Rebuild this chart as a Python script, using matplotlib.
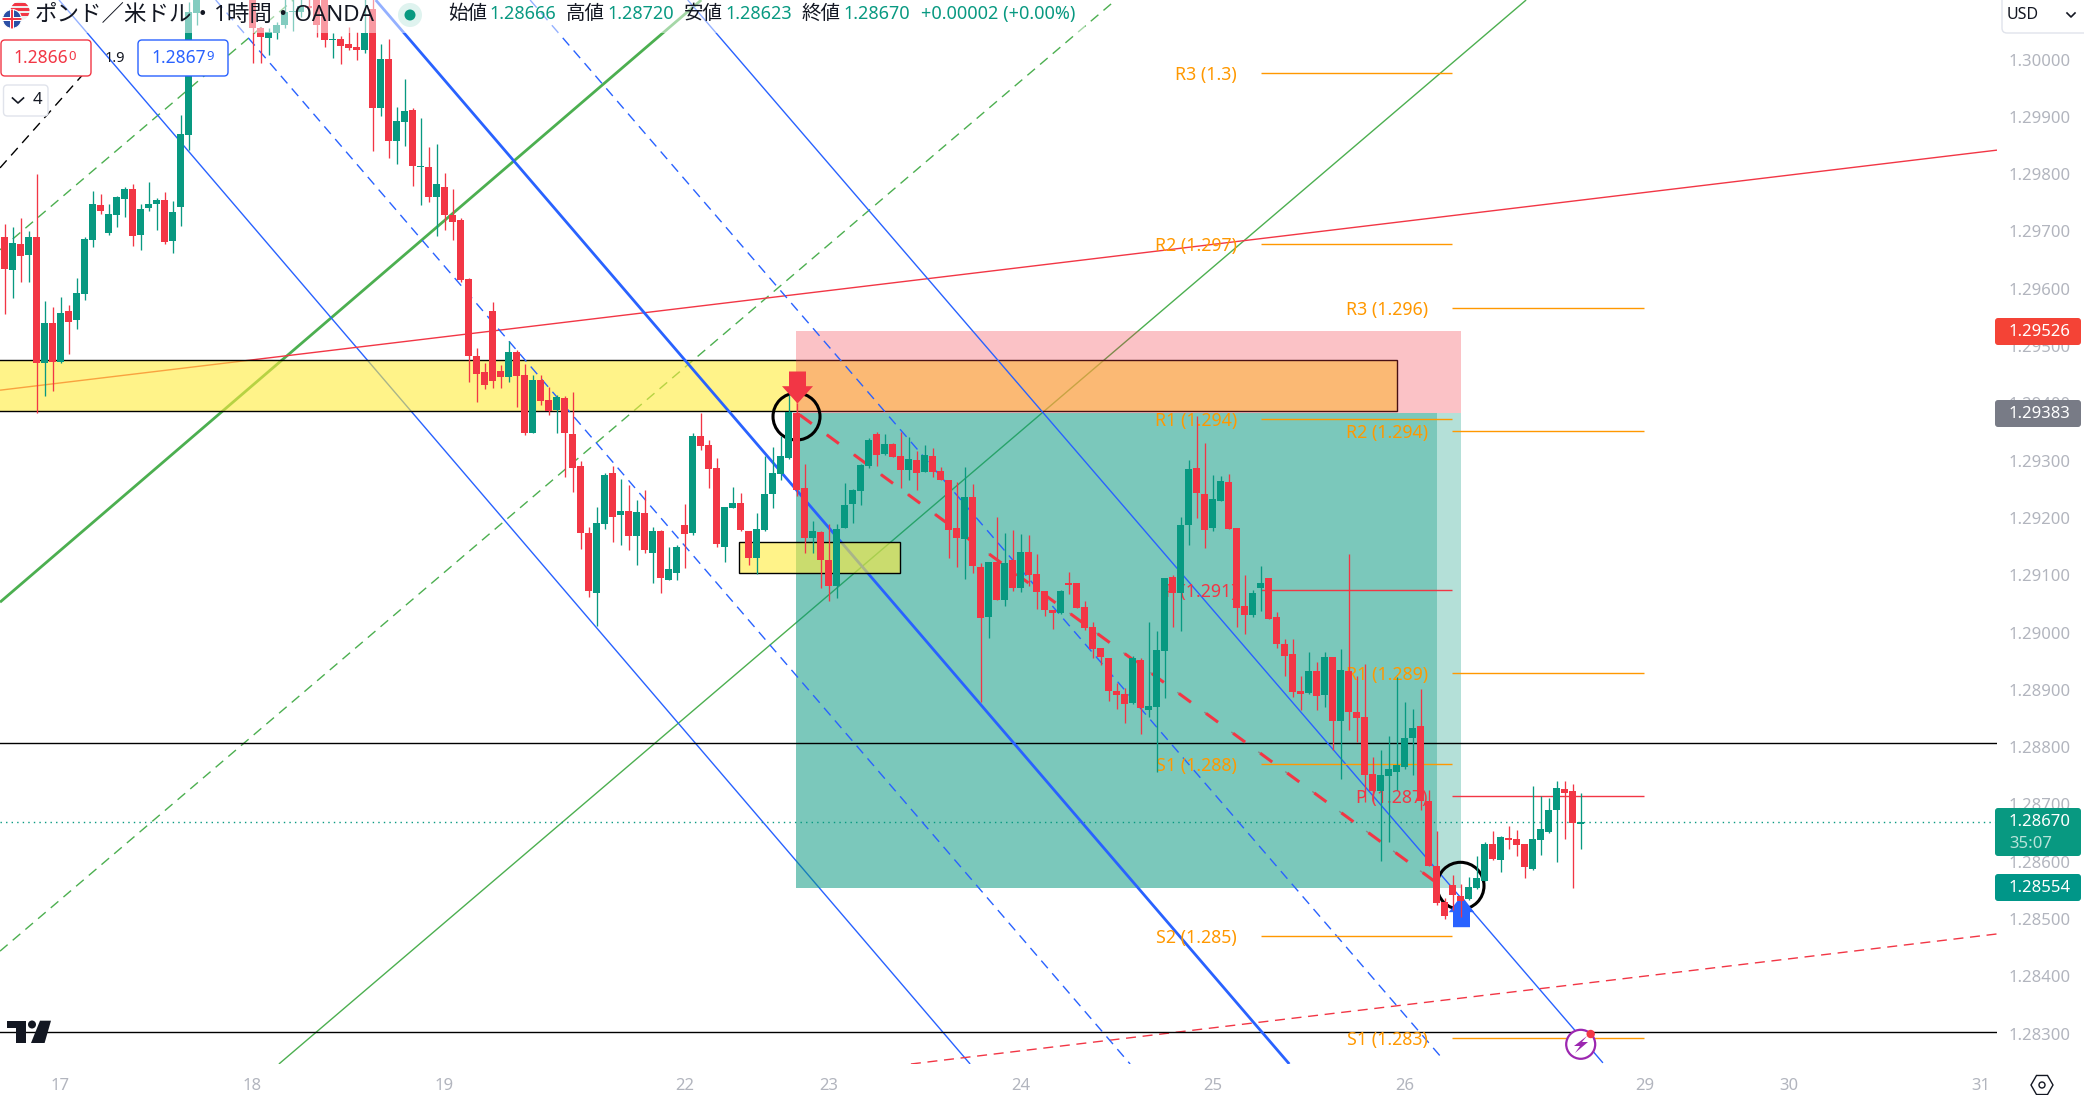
import numpy as np
import matplotlib
matplotlib.use('Agg')
import matplotlib.pyplot as plt
from matplotlib.patches import Rectangle, Circle, Polygon, FancyBboxPatch, RegularPolygon
from matplotlib.path import Path

plt.rcParams['font.family'] = ['Noto Sans', 'Noto Sans CJK JP', 'DejaVu Sans']

opens = [
    1.29690,1.29633,1.29678,1.29659,1.29690,1.29470,1.29540,1.29473,1.29561,1.29545,
    1.29591,1.29685,1.29746,1.29697,1.29729,1.29757,1.29774,1.29694,1.29741,1.29748,
    1.29755,1.29683,1.29743,1.29868,1.30081,1.30130,1.30185,1.30230,1.30195,1.30240,
    1.30190,1.30135,1.30055,1.30038,1.30046,1.30060,1.30083,1.30083,1.30094,1.30105,
    1.30110,1.30035,1.30036,1.30027,1.30022,1.30017,1.30088,1.29916,1.30001,1.29858,
    1.29891,1.29912,1.29813,1.29813,1.29760,1.29778,1.29729,1.29720,1.29617,1.29483,
    1.29455,1.29561,1.29456,1.29446,1.29490,1.29450,1.29349,1.29441,1.29406,1.29389,
    1.29410,1.29347,1.29291,1.29174,1.29069,1.29190,1.29279,1.29205,1.29212,1.29169,
    1.29209,1.29139,1.29178,1.29092,1.29104,1.29188,1.29174,1.29343,1.29327,1.29287,
    1.29149,1.29218,1.29226,1.29177,1.29130,1.29179,1.29242,1.29277,1.29305,1.29384,
    1.29252,1.29165,1.29176,1.29127,1.29081,1.29183,1.29225,1.29247,1.29291,1.29347,
    1.29312,1.29329,1.29308,1.29284,1.29301,1.29280,1.29308,1.29282,1.29266,1.29183,
    1.29163,1.29237,1.29115,1.29027,1.29123,1.29057,1.29127,1.29078,1.29141,1.29102,
    1.29073,1.29039,1.29034,1.29087,1.29087,1.29045,1.29010,1.28973,1.28956,1.28898,
    1.28893,1.28877,1.28952,1.28865,1.28870,1.28968,1.29097,1.29069,1.29188,1.29287,
    1.29242,1.29183,1.29230,1.29263,1.29183,1.29046,1.29031,1.29078,1.29095,1.29027,
    1.28980,1.28963,1.28898,1.28895,1.28933,1.28891,1.28957,1.28846,1.28933,1.28862,
    1.28853,1.28753,1.28724,1.28750,1.28757,1.28766,1.28816,1.28837,1.28706,1.28593,
    1.28530,1.28560,1.28540,1.28535,1.28554,1.28567,1.28631,1.28603,1.28641,1.28640,
    1.28631,1.28588,1.28638,1.28652,1.28691,1.28727,1.28724,1.28666,
]
closes = [
    1.29634,1.29680,1.29657,1.29690,1.29470,1.29540,1.29473,1.29558,1.29542,1.29593,
    1.29687,1.29748,1.29736,1.29730,1.29760,1.29774,1.29692,1.29739,1.29748,1.29755,
    1.29682,1.29734,1.29870,1.30083,1.30130,1.30185,1.30230,1.30195,1.30240,1.30190,
    1.30135,1.30055,1.30039,1.30048,1.30060,1.30083,1.30085,1.30094,1.30090,1.30060,
    1.30034,1.30036,1.30024,1.30020,1.30017,1.30046,1.29916,1.30001,1.29858,1.29893,
    1.29910,1.29814,1.29815,1.29760,1.29783,1.29729,1.29717,1.29615,1.29483,1.29451,
    1.29432,1.29439,1.29446,1.29490,1.29447,1.29349,1.29441,1.29405,1.29387,1.29411,
    1.29349,1.29288,1.29174,1.29073,1.29191,1.29275,1.29202,1.29212,1.29169,1.29211,
    1.29144,1.29178,1.29095,1.29111,1.29150,1.29172,1.29343,1.29326,1.29286,1.29155,
    1.29219,1.29226,1.29179,1.29130,1.29181,1.29242,1.29279,1.29308,1.29385,1.29249,
    1.29165,1.29177,1.29127,1.29081,1.29181,1.29223,1.29249,1.29293,1.29336,1.29310,
    1.29329,1.29306,1.29284,1.29303,1.29279,1.29310,1.29280,1.29266,1.29179,1.29165,
    1.29237,1.29116,1.29026,1.29123,1.29057,1.29122,1.29078,1.29141,1.29101,1.29071,
    1.29039,1.29034,1.29073,1.29083,1.29043,1.29008,1.28971,1.28957,1.28898,1.28891,
    1.28875,1.28956,1.28869,1.28872,1.28970,1.29095,1.29069,1.29188,1.29286,1.29244,
    1.29179,1.29233,1.29265,1.29181,1.29043,1.29031,1.29069,1.29087,1.29024,1.28980,
    1.28959,1.28896,1.28893,1.28933,1.28889,1.28957,1.28846,1.28935,1.28862,1.28851,
    1.28752,1.28724,1.28752,1.28762,1.28769,1.28816,1.28834,1.28706,1.28593,1.28528,
    1.28506,1.28542,1.28532,1.28556,1.28572,1.28631,1.28605,1.28643,1.28638,1.28630,
    1.28591,1.28640,1.28657,1.28691,1.28729,1.28720,1.28668,1.28670,
]
highs = [
    1.29713,1.29708,1.29723,1.29700,1.29800,1.29579,1.29568,1.29586,1.29572,1.29618,
    1.29690,1.29771,1.29765,1.29748,1.29762,1.29777,1.29783,1.29748,1.29786,1.29758,
    1.29769,1.29753,1.29903,1.30100,1.30150,1.30200,1.30250,1.30245,1.30260,1.30255,
    1.30200,1.30150,1.30057,1.30055,1.30065,1.30110,1.30110,1.30110,1.30120,1.30115,
    1.30125,1.30046,1.30041,1.30057,1.30048,1.30110,1.30115,1.30027,1.30036,1.29917,
    1.29966,1.29915,1.29898,1.29847,1.29853,1.29802,1.29774,1.29723,1.29618,1.29496,
    1.29470,1.29577,1.29467,1.29508,1.29493,1.29468,1.29450,1.29450,1.29429,1.29415,
    1.29412,1.29420,1.29300,1.29185,1.29219,1.29279,1.29291,1.29268,1.29258,1.29232,
    1.29249,1.29185,1.29179,1.29150,1.29153,1.29225,1.29348,1.29383,1.29336,1.29305,
    1.29220,1.29254,1.29244,1.29178,1.29209,1.29308,1.29324,1.29343,1.29415,1.29400,
    1.29294,1.29195,1.29178,1.29190,1.29190,1.29261,1.29251,1.29294,1.29340,1.29350,
    1.29347,1.29331,1.29350,1.29341,1.29317,1.29327,1.29322,1.29289,1.29267,1.29263,
    1.29289,1.29259,1.29122,1.29124,1.29202,1.29174,1.29179,1.29172,1.29170,1.29137,
    1.29073,1.29040,1.29075,1.29106,1.29087,1.29055,1.29019,1.28973,1.28956,1.28912,
    1.28903,1.28959,1.28956,1.29019,1.29003,1.29095,1.29101,1.29202,1.29301,1.29378,
    1.29331,1.29275,1.29273,1.29277,1.29183,1.29101,1.29074,1.29116,1.29096,1.29036,
    1.28989,1.28989,1.28924,1.28966,1.28949,1.28966,1.28958,1.28972,1.29137,1.28924,
    1.28945,1.28783,1.28795,1.28820,1.28923,1.28879,1.28867,1.28902,1.28725,1.28654,
    1.28537,1.28577,1.28561,1.28574,1.28610,1.28635,1.28654,1.28645,1.28663,1.28656,
    1.28631,1.28732,1.28715,1.28711,1.28741,1.28741,1.28736,1.28720,
]
lows = [
    1.29556,1.29584,1.29612,1.29612,1.29384,1.29412,1.29422,1.29470,1.29486,1.29530,
    1.29580,1.29673,1.29730,1.29694,1.29707,1.29726,1.29675,1.29668,1.29735,1.29703,
    1.29679,1.29663,1.29710,1.29842,1.30060,1.30120,1.30170,1.30180,1.30185,1.30170,
    1.30125,1.29994,1.29994,1.30008,1.30036,1.30055,1.30050,1.30075,1.30080,1.30040,
    1.30022,1.30003,1.29992,1.30017,1.30000,1.30012,1.29840,1.29902,1.29829,1.29818,
    1.29849,1.29779,1.29746,1.29751,1.29692,1.29703,1.29685,1.29612,1.29437,1.29402,
    1.29425,1.29426,1.29427,1.29437,1.29393,1.29344,1.29348,1.29397,1.29380,1.29349,
    1.29272,1.29246,1.29146,1.29062,1.29011,1.29181,1.29158,1.29153,1.29144,1.29118,
    1.29139,1.29087,1.29069,1.29092,1.29092,1.29113,1.29170,1.29319,1.29252,1.29149,
    1.29123,1.29217,1.29178,1.29118,1.29102,1.29178,1.29218,1.29266,1.29303,1.29238,
    1.29139,1.29139,1.29078,1.29055,1.29060,1.29182,1.29191,1.29223,1.29287,1.29291,
    1.29310,1.29306,1.29252,1.29266,1.29249,1.29280,1.29272,1.29266,1.29130,1.29115,
    1.29094,1.29104,1.28879,1.28991,1.29056,1.29046,1.29073,1.29071,1.29081,1.29041,
    1.29029,1.29006,1.29033,1.29067,1.29043,1.29005,1.28956,1.28944,1.28881,1.28867,
    1.28842,1.28875,1.28823,1.28853,1.28757,1.28886,1.29009,1.29003,1.29153,1.29200,
    1.29148,1.29177,1.29230,1.29181,1.29010,1.28998,1.29027,1.29038,1.29023,1.28973,
    1.28924,1.28888,1.28865,1.28893,1.28865,1.28870,1.28795,1.28745,1.28830,1.28809,
    1.28705,1.28706,1.28602,1.28635,1.28725,1.28762,1.28752,1.28691,1.28593,1.28525,
    1.28500,1.28516,1.28504,1.28534,1.28553,1.28567,1.28603,1.28582,1.28622,1.28610,
    1.28572,1.28586,1.28612,1.28650,1.28600,1.28640,1.28554,1.28623,
]

# axis
day_bars = [7, 31, 55, 85, 103, 127, 151, 175, 205, 223, 247]
day_labels = ['17', '18', '19', '22', '23', '24', '25', '26', '29', '30', '31']
price_ticks = [1.300, 1.299, 1.298, 1.297, 1.296, 1.295, 1.294, 1.293, 1.292,
               1.291, 1.290, 1.289, 1.288, 1.287, 1.286, 1.285, 1.284, 1.283]

# trend lines, (bar, price) at both ends
blue_thick = [(46.4, 1.30104), (160.6, 1.28247)]
blue_left = [(6.81, 1.30104), (120.7, 1.28247)]
blue_right = [(85.4, 1.30104), (199.8, 1.28249)]
blue_dash_1 = [(26.4, 1.30104), (140.7, 1.28247)]
blue_dash_2 = [(65.7, 1.30104), (179.7, 1.28257)]
green_thick = [(-0.56, 1.29053), (87.1, 1.30104)]
green_thin = [(34.3, 1.28247), (190.2, 1.30104)]
green_dash_1 = [(-0.56, 1.29668), (36.1, 1.30104)]
green_dash_2 = [(-0.56, 1.28444), (138.9, 1.30104)]
black_dash = [(-0.56, 1.29811), (10.5, 1.29985)]
red_solid = [(-0.56, 1.29423), (249.06, 1.29842)]
red_dash = [(113.3, 1.28247), (249.06, 1.28474)]
red_trade = [(99.4, 1.29380), (180.3, 1.28550)]

h_levels = [1.28808, 1.28303]
last_price = 1.28670

# zones
band_bars = (-3.0, 174.1)
band_prices = (1.29387, 1.29476)
box_bars = (91.8, 111.9)
box_prices = (1.29104, 1.29158)
trade_bars = (98.94, 179.06, 182.06)
stop_price = 1.29526
entry_price = 1.29383
target_price = 1.28554

# pivots
pivot_a_labels = ['R3 (1.3)', 'R2 (1.297)', 'R1 (1.294)', 'P (1.291)', 'S1 (1.288)', 'S2 (1.285)']
pivot_a_levels = [1.29977, 1.29678, 1.29373, 1.29074, 1.28770, 1.28471]
pivot_b_labels = ['R3 (1.296)', 'R2 (1.294)', 'R1 (1.289)', 'P (1.287)', 'S1 (1.283)']
pivot_b_levels = [1.29566, 1.29352, 1.28929, 1.28714, 1.28292]
pivot_bars = (157.06, 180.9, 204.9)

# marks on the trade
circle_marks = [(99.0, 1.29377), (182.0, 1.28558)]
sell_tip = (99.0, 1.29400)
buy_tip = (182.0, 1.28542)

RED = '#f23645'
GREEN = '#089981'
BLUE = '#2962ff'
LINE_GREEN = '#4caf50'
ORANGE = '#ff9800'
GREY = '#b2b5be'
INK = '#131722'
W, H = 2084, 1095
DASH = (0, (7.2, 4.8))


def draw_line(ax, pts, color, lw=1.0, ls='-', z=1):
    xs = [p[0] for p in pts]
    ys = [p[1] for p in pts]
    ax.plot(xs, ys, color=color, lw=lw, ls=ls, zorder=z, solid_capstyle='butt', dash_capstyle='butt')


def arrow_marker(verts):
    codes = [Path.MOVETO] + [Path.LINETO] * (len(verts) - 1) + [Path.CLOSEPOLY]
    return Path(list(verts) + [verts[0]], codes)


def draw_chart(ax):
    x = np.arange(len(opens))
    o, c, hi, lo = map(np.array, (opens, closes, highs, lows))
    up = c >= o
    colors = np.where(up, GREEN, RED)

    # lines that sit under the yellow band
    draw_line(ax, green_thick, LINE_GREEN, 2.0)
    draw_line(ax, green_thin, LINE_GREEN, 1.0)
    draw_line(ax, green_dash_1, LINE_GREEN, 1.0, DASH)
    draw_line(ax, green_dash_2, LINE_GREEN, 1.0, DASH)
    draw_line(ax, black_dash, 'black', 1.0, DASH)
    draw_line(ax, blue_left, BLUE, 1.0)
    draw_line(ax, red_solid, RED, 1.0)
    draw_line(ax, red_dash, RED, 1.0, DASH)
    ax.axhline(last_price, color=GREEN, lw=1.0, ls=(0, (1, 3)), zorder=1)

    ax.add_patch(Rectangle((band_bars[0], band_prices[0]), band_bars[1] - band_bars[0],
                           band_prices[1] - band_prices[0], fc=(1, 0.92, 0.23, 0.6),
                           ec='black', lw=1.0, zorder=2))

    # position tool
    left, inner, right = trade_bars
    ax.add_patch(Rectangle((left, entry_price), right - left, stop_price - entry_price,
                           fc=RED, alpha=0.3, lw=0, zorder=3))
    ax.add_patch(Rectangle((left, target_price), right - left, entry_price - target_price,
                           fc=GREEN, alpha=0.3, lw=0, zorder=3))
    ax.add_patch(Rectangle((left, target_price), inner - left, entry_price - target_price,
                           fc=GREEN, alpha=0.33, lw=0, zorder=3))

    for lev in h_levels:
        ax.axhline(lev, color='black', lw=1.0, zorder=3.5)

    draw_line(ax, blue_thick, BLUE, 2.0, z=4)
    draw_line(ax, blue_right, BLUE, 1.0, z=4)
    draw_line(ax, blue_dash_1, BLUE, 1.0, DASH, z=4)
    draw_line(ax, blue_dash_2, BLUE, 1.0, DASH, z=4)

    ax.add_patch(Rectangle((box_bars[0], box_prices[0]), box_bars[1] - box_bars[0],
                           box_prices[1] - box_prices[0], fc=(1, 0.92, 0.23, 0.6),
                           ec='black', lw=1.0, zorder=5))

    # grey dashes with red dashes on top
    draw_line(ax, red_trade, '#888888', 1.0, (0, (3, 6.5, 0, 14.6)), z=5.2)
    draw_line(ax, red_trade, RED, 2.2, (0, (4.9, 6.1)), z=5.3)

    # pivots
    a0, mid, b1 = pivot_bars
    for lab, lev in zip(pivot_a_labels, pivot_a_levels):
        col = RED if lab.startswith('P') else ORANGE
        ax.hlines(lev, a0, mid, color=col, lw=1.0, zorder=5.4)
        ax.text(a0 - 3.0, lev, lab, color=col, fontsize=12.8, ha='right', va='center_baseline', zorder=5.4)
    for lab, lev in zip(pivot_b_labels, pivot_b_levels):
        col = RED if lab.startswith('P') else ORANGE
        ax.hlines(lev, mid, b1, color=col, lw=1.0, zorder=5.4)
        ax.text(mid - 3.0, lev, lab, color=col, fontsize=12.8, ha='right', va='center_baseline', zorder=5.4)

    ax.scatter([p[0] for p in circle_marks], [p[1] for p in circle_marks], s=1145,
               facecolors='none', edgecolors='black', linewidths=2.2, zorder=5.5)

    # candles
    ax.vlines(x, lo, hi, colors=colors, lw=0.95, zorder=7)
    ax.bar(x, np.abs(c - o), bottom=np.minimum(o, c), width=0.87, color=colors, lw=0, zorder=7)

    # trade arrows, marker shape is in pixels from the tip
    sell = arrow_marker([(-8.5, 32), (8.5, 32), (8.5, 17.3), (15.5, 17.3), (0, 0), (-15.5, 17.3), (-8.5, 17.3)])
    buy = arrow_marker([(-8.5, -31.7), (8.5, -31.7), (8.5, -16.7), (12.7, -16.7), (0, 0), (-12.7, -16.7), (-8.5, -16.7)])
    ax.scatter([sell_tip[0]], [sell_tip[1]], marker=sell, s=(1.44 * 32) ** 2, color=RED, lw=0, zorder=8)
    ax.scatter([buy_tip[0]], [buy_tip[1]], marker=buy, s=(1.44 * 31.7) ** 2, color=BLUE, lw=0, zorder=6)

    ax.set_xlim(-0.5625, 249.06)
    ax.set_ylim(1.28247, 1.30104)
    ax.set_xticks(day_bars)
    ax.set_xticklabels(day_labels)
    ax.set_yticks(price_ticks)
    ax.set_yticklabels(['%.5f' % p for p in price_ticks])
    ax.yaxis.tick_right()
    ax.tick_params(axis='y', length=0, labelcolor=GREY, labelsize=12, pad=8.6)
    ax.tick_params(axis='x', length=0, labelcolor=GREY, labelsize=12, pad=10)
    for s in ax.spines.values():
        s.set_visible(False)


def tag(ui, y0, y1, color, text, text_y=None):
    ui.add_patch(FancyBboxPatch((1995, y0), 86, y1 - y0, boxstyle='round,pad=0,rounding_size=3',
                                fc=color, ec='none', zorder=5))
    ui.text(2009, (text_y if text_y else (y0 + y1) / 2) + 1, text, color='white', fontsize=12,
            fontweight='bold', va='center', zorder=6)


def draw_ui(ui):
    # header fade
    ui.add_patch(Rectangle((0, 0), 1085, 33, fc='white', alpha=0.5, lw=0, zorder=1))

    # flag
    us = Circle((20, 11), 9.5, fc='#eeeeee', ec='none', zorder=3)
    ui.add_patch(us)
    for yy in (3, 8, 13):
        st = Rectangle((10, yy), 20, 2.5, fc=RED, lw=0, zorder=3.1)
        ui.add_patch(st)
        st.set_clip_path(us)
    uk = Circle((12, 19), 9.5, fc='#2b4fa5', ec='white', lw=0.8, zorder=3.2)
    ui.add_patch(uk)
    for rect in (Rectangle((2, 17), 20, 4, fc='white', lw=0, zorder=3.3),
                 Rectangle((10, 9), 4, 20, fc='white', lw=0, zorder=3.3),
                 Rectangle((2, 18), 20, 2, fc=RED, lw=0, zorder=3.4),
                 Rectangle((11, 9), 2, 20, fc=RED, lw=0, zorder=3.4)):
        ui.add_patch(rect)
        rect.set_clip_path(uk)

    ui.text(35, 15, 'ポンド／米ドル・1時間・OANDA', color=INK, fontsize=16.2, va='center', zorder=4)
    ui.add_patch(Circle((410, 15), 12, fc='#dff3ef', ec='none', zorder=3))
    ui.add_patch(Circle((410, 15), 5.5, fc=GREEN, ec='none', zorder=4))

    for lx, lab, vx, val in [(448, '始値', 489, '1.28666'), (566, '高値', 607, '1.28720'),
                             (684, '安値', 725, '1.28623'), (801.5, '終値', 843, '1.28670')]:
        ui.text(lx, 14, lab, color=INK, fontsize=14, va='center', zorder=4)
        ui.text(vx, 14, val, color=GREEN, fontsize=13, va='center', zorder=4)
    ui.text(921, 14, '+0.00002 (+0.00%)', color=GREEN, fontsize=13, va='center', zorder=4)

    # sell and buy buttons
    for x0, col, big, small, tx in [(1, RED, '1.2866', '0', 13.4), (138, BLUE, '1.2867', '9', 151)]:
        ui.add_patch(FancyBboxPatch((x0, 40), 90, 36, boxstyle='round,pad=0,rounding_size=4',
                                    fc='white', ec=col, lw=1.0, zorder=3))
        t = ui.text(tx, 58, big, color=col, fontsize=12.5, va='center', zorder=4)
        ui.annotate(small, xy=(1, 0.5), xycoords=t, xytext=(0.5, 1), textcoords='offset points',
                    color=col, fontsize=9.5, va='center', zorder=4)
    ui.text(115, 58, '1.9', color=INK, fontsize=10.5, ha='center', va='center', zorder=4)

    ui.add_patch(FancyBboxPatch((3.5, 85), 44.5, 31, boxstyle='round,pad=0,rounding_size=4',
                                fc='white', ec='#e0e3eb', lw=1.0, zorder=3))
    ui.plot([12.5, 18, 23.5], [98, 103, 98], color=INK, lw=1.2, zorder=4)
    ui.text(37, 100, '4', color=INK, fontsize=12, ha='center', va='center', zorder=4)

    # scale corner
    ui.add_patch(FancyBboxPatch((2002, -8), 90, 41, boxstyle='round,pad=0,rounding_size=5',
                                fc='white', ec='#e0e3eb', lw=1.0, zorder=3))
    ui.text(2007, 15, 'USD', color=INK, fontsize=11.5, va='center', zorder=4)
    ui.plot([2067, 2071, 2075], [13, 17, 13], color=INK, lw=1.2, zorder=4)

    # price tags
    tag(ui, 318, 345, '#f44336', '1.29526')
    tag(ui, 400, 427, '#787b86', '1.29383')
    tag(ui, 808, 856, GREEN, '1.28670', 821)
    ui.text(2009, 844, '35:07', color='#b8e3da', fontsize=12, va='center', zorder=6)
    tag(ui, 874, 901, '#009688', '1.28554')

    # alert icon
    ui.add_patch(Circle((1580.7, 1044.3), 14.5, fc='white', ec='#9c27b0', lw=1.6, zorder=4))
    ui.add_patch(Polygon([(1587, 1036), (1574, 1046), (1580, 1046), (1575, 1053), (1588, 1042), (1582, 1042)],
                         fc='#9c27b0', ec='none', zorder=5))
    ui.add_patch(Circle((1590.7, 1034), 4.2, fc=RED, ec='none', zorder=5))

    # logo
    ui.add_patch(Polygon([(7, 1020.7), (26, 1020.7), (26, 1043), (15.6, 1043), (15.6, 1028), (7, 1028)],
                         fc=INK, ec='none', zorder=4))
    ui.add_patch(Circle((32, 1024.5), 4, fc=INK, ec='none', zorder=4))
    ui.add_patch(Polygon([(40, 1020.7), (51, 1020.7), (44.6, 1043), (31, 1043)], fc=INK, ec='none', zorder=4))

    # gear
    ui.add_patch(RegularPolygon((2042, 1085), 6, radius=11, orientation=np.pi / 6,
                                fc='white', ec=INK, lw=1.0, zorder=4))
    ui.add_patch(Circle((2042, 1085), 3, fc='white', ec=INK, lw=1.0, zorder=5))


def main():
    fig = plt.figure(figsize=(W / 100, H / 100), dpi=100, facecolor='white')
    ax = fig.add_axes([0, 1 - 1064 / H, 1997 / W, 1064 / H])
    draw_chart(ax)

    ui = fig.add_axes([0, 0, 1, 1], facecolor='none')
    ui.set_xlim(0, W)
    ui.set_ylim(H, 0)
    ui.axis('off')
    draw_ui(ui)

    fig.savefig('out.png', dpi=100)


if __name__ == "__main__":
    main()
